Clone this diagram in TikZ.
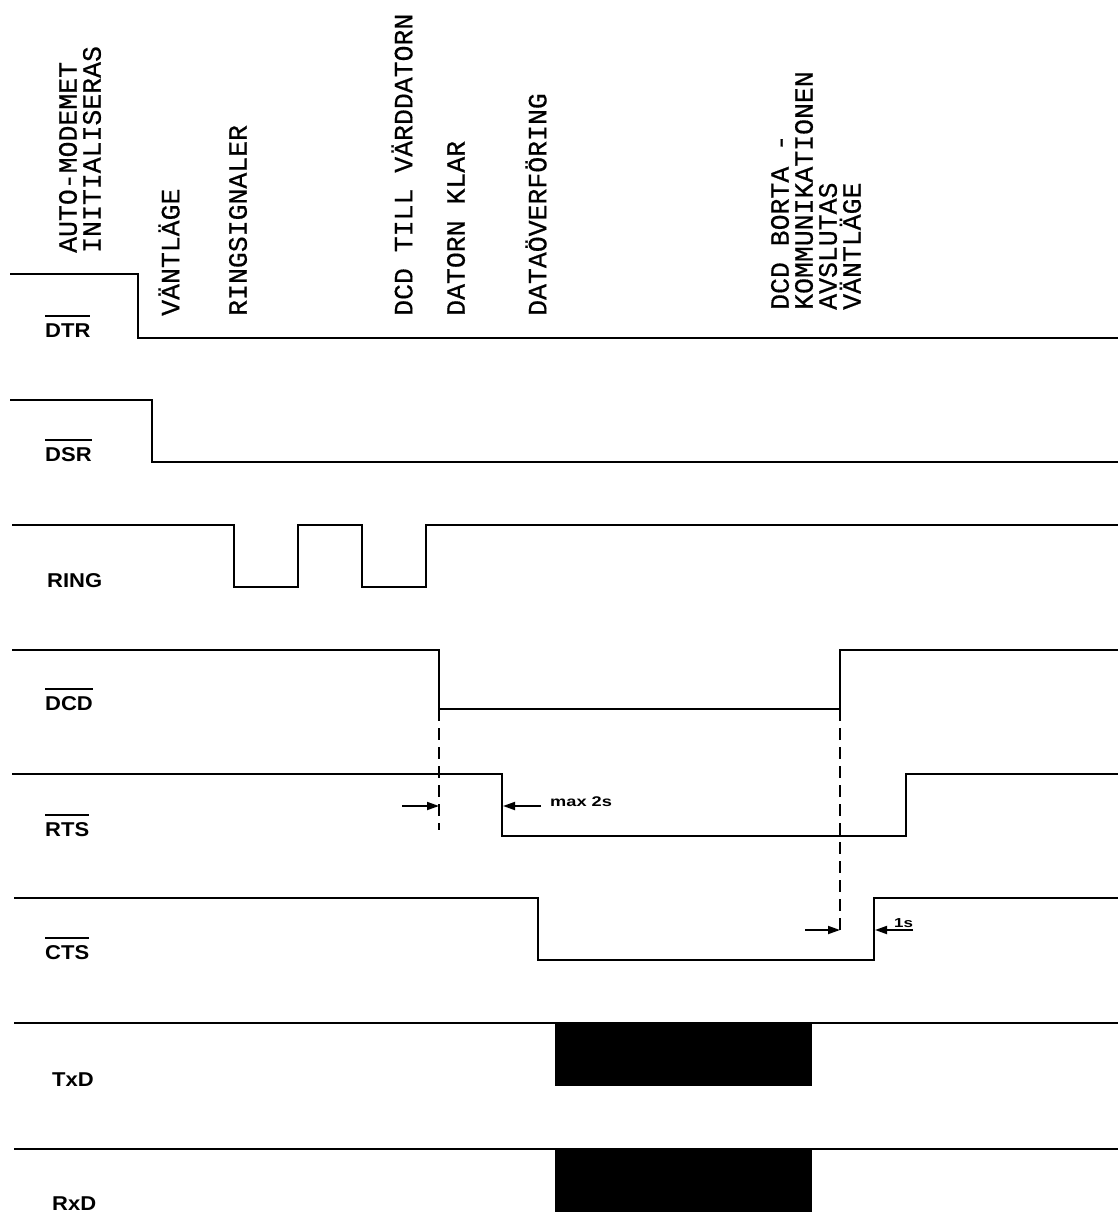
\documentclass[tikz,border=0pt]{standalone}
\usepackage{fontspec}
\setmainfont{Liberation Sans}
\newfontfamily\evtfont[FakeBold=0.5]{Liberation Mono}
\newfontfamily\lblfont[UprightFont=* Bold, FakeStretch=1.1]{Liberation Sans}
\newfontfamily\smlfont[UprightFont=* Bold, FakeStretch=1.3]{Liberation Sans}
\usetikzlibrary{arrows.meta}
\newcommand\obar[1]{\vbox{\hrule height 2pt\kern 6pt\hbox{#1}}}
\begin{document}
\begin{tikzpicture}[x=1pt,y=-1pt,
  sig/.style={line width=2.6pt},
  lbl/.style={font=\lblfont\fontsize{20}{20}\selectfont, anchor=base west, inner sep=0pt},
  evt/.style={font=\evtfont\fontsize{26.5}{24}\selectfont, rotate=90, anchor=west, align=left, inner sep=0pt},
  guide/.style={line width=1.8pt, dash pattern=on 12pt off 7pt},
  dimarrow/.style={line width=1.8pt, -{Triangle[length=12pt,width=8pt]}},
  small/.style={font=\smlfont\fontsize{14}{14}\selectfont, inner sep=0pt}]
\useasboundingbox (0,0) rectangle (1118,1214);

% event labels
\node[evt] (eInit) at (80,253) {AUTO-MODEMET\\INITIALISERAS};
\node[evt] (eVant) at (169,316) {VÄNTLÄGE};
\node[evt] (eRing) at (238,316) {RINGSIGNALER};
\node[evt] (eDcd) at (402,316) {DCD TILL VÄRDDATORN};
\node[evt] (eKlar) at (456,316) {DATORN KLAR};
\node[evt] (eData) at (536,316) {DATAÖVERFÖRING};
\node[evt] (eSlut) at (816,310) {DCD BORTA -\\KOMMUNIKATIONEN\\AVSLUTAS\\VÄNTLÄGE};

% signal names
\node[lbl] (nDTR) at (45,337) {\obar{DTR}};
\node[lbl] (nDSR) at (45,461) {\obar{DSR}};
\node[lbl] (nRING) at (47,587) {RING};
\node[lbl] (nDCD) at (45,710) {\obar{DCD}};
\node[lbl] (nRTS) at (45,836) {\obar{RTS}};
\node[lbl] (nCTS) at (45,959) {\obar{CTS}};
\node[lbl] (nTxD) at (52,1086) {TxD};
\node[lbl] (nRxD) at (52,1210) {RxD};

% waveforms
\draw[sig] (10,274) -- (138,274) -- (138,338) -- (1118,338);
\draw[sig] (10,400) -- (152,400) -- (152,462) -- (1118,462);
\draw[sig] (12,525) -| (234,587) -| (298,525) -| (362,587) -| (426,525) -- (1118,525);
\draw[sig] (12,650) -| (439,709) -| (840,650) -- (1118,650);
\draw[sig] (12,774) -| (502,836) -| (906,774) -- (1118,774);
\draw[sig] (14,898) -| (538,960) -| (874,898) -- (1118,898);
\draw[sig] (14,1023) -- (1118,1023);
\fill (555,1023) rectangle (812,1086);
\draw[sig] (14,1149) -- (1118,1149);
\fill (555,1149) rectangle (812,1212);

% guide lines
\coordinate (dcdFall) at (439,709);
\coordinate (dcdFallEnd) at (439,830);
\coordinate (dcdRise) at (840,709);
\coordinate (dcdRiseEnd) at (840,935);
\draw[guide] (dcdFall) -- (dcdFallEnd);
\draw[guide] (dcdRise) -- (dcdRiseEnd);

% timing arrows
\coordinate (a1s) at (402,806);
\coordinate (a1e) at (439,806);
\coordinate (a2s) at (541,806);
\coordinate (a2e) at (503,806);
\draw[dimarrow] (a1s) -- (a1e);
\draw[dimarrow] (a2s) -- (a2e);
\node[small, anchor=base west] (tMax) at (550,806) {max 2s};

\coordinate (b1s) at (805,930);
\coordinate (b1e) at (840,930);
\coordinate (b2s) at (913,930);
\coordinate (b2e) at (875,930);
\draw[dimarrow] (b1s) -- (b1e);
\draw[dimarrow] (b2s) -- (b2e);
\node[small, anchor=base west, font=\smlfont\fontsize{13}{13}\selectfont] (t1s) at (894,927) {1s};
\end{tikzpicture}
\end{document}
